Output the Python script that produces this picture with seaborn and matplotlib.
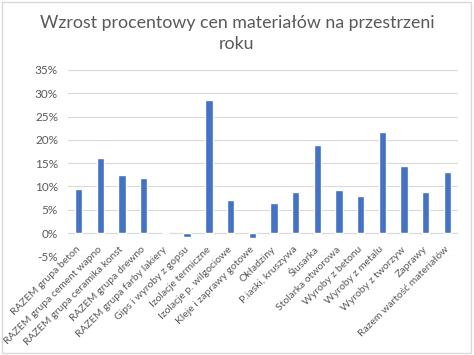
import pandas as pd
import matplotlib.pyplot as plt
import seaborn as sns
from matplotlib.patches import Rectangle
from matplotlib.ticker import FuncFormatter

categories = [
    "RAZEM grupa beton",
    "RAZEM grupa cement wapno",
    "RAZEM grupa ceramika konst",
    "RAZEM grupa drewno",
    "RAZEM grupa farby lakiery",
    "Gips i wyroby z gopsu",
    "Izolacje termiczne",
    "Izolacje p. wilgociowe",
    "Kleje i zaprawy gotowe",
    "Okładziny",
    "P.iaski, kruszywa",
    "Ślusarka",
    "Stolarka otworowa",
    "Wyroby z betonu",
    "Wyroby z metalu",
    "Wyroby z tworzyw",
    "Zaprawy",
    "Razem wartość materiałów",
]
values = [9.5, 16.0, 12.5, 11.8, 0.0, -0.9, 28.6, 7.1, -1.0,
          6.5, 8.9, 18.9, 9.2, 7.9, 21.6, 14.3, 8.8, 13.1]
yticks = [-5, 0, 5, 10, 15, 20, 25, 30, 35]

df = pd.DataFrame({"cat": categories, "val": values})

sns.set_theme(style="white")
plt.rcParams["font.family"] = ["Lato", "DejaVu Sans"]
gray = "#595959"

fig = plt.figure(figsize=(4.74, 3.55), dpi=100)
ax = fig.add_axes([0.143, 0.278, 0.824, 0.525])

sns.barplot(data=df, x="cat", y="val", color="#4472C4", width=0.34,
            saturation=1, ax=ax)

ax.set_ylim(-5, 35)
ax.set_yticks(yticks)
ax.yaxis.set_major_formatter(FuncFormatter(lambda v, _: f"{v:.0f}%"))
ax.grid(axis="y", color="#d9d9d9", linewidth=0.8)
ax.set_axisbelow(True)
for s in ax.spines.values():
    s.set_visible(False)
ax.axhline(0, color="#d9d9d9", linewidth=0.8, zorder=0)
ax.set_xlim(-0.5, len(categories) - 0.5)

ax.set_xlabel("")
ax.set_ylabel("")
ax.tick_params(axis="y", labelsize=8.5, colors=gray, length=0, pad=7)
ax.tick_params(axis="x", length=0, pad=-6)
ax.set_xticks(range(len(categories)))
ax.set_xticklabels(categories, rotation=45, ha="right", va="center",
                   rotation_mode="anchor", fontsize=7.5, color=gray)

fig.text(0.5, 0.905, "Wzrost procentowy cen materiałów na przestrzeni\nroku",
         ha="center", va="center", fontsize=12.8, color=gray, linespacing=1.35)

fig.patches.append(Rectangle((0.004, 0.006), 0.99, 0.988, transform=fig.transFigure,
                             fill=False, edgecolor="#d9d9d9", linewidth=1))

fig.savefig("out.png", dpi=100)
